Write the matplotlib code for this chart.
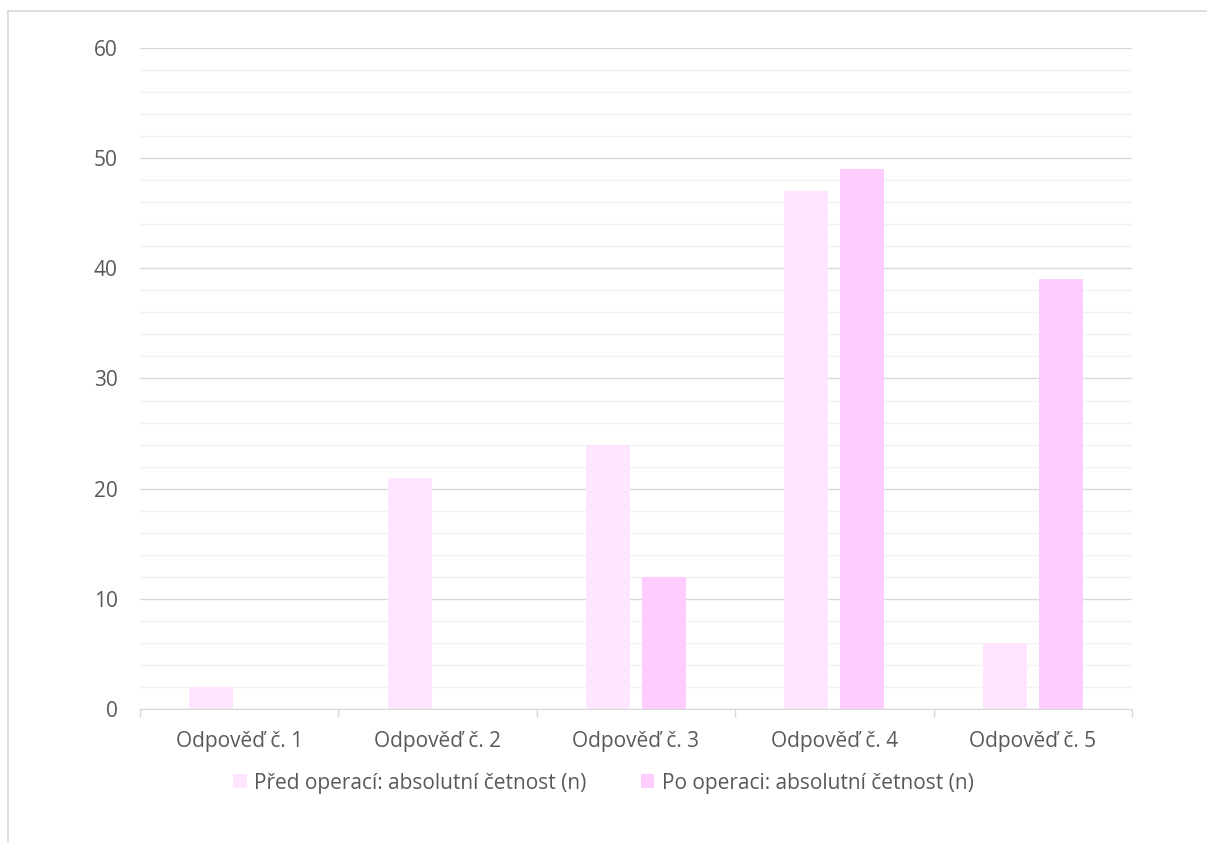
import matplotlib.pyplot as plt
import numpy as np
from matplotlib.lines import Line2D
from matplotlib.patches import Patch

plt.rcParams['font.family'] = ['Open Sans', 'DejaVu Sans']

kategorie = ["Odpověď č. 1", "Odpověď č. 2", "Odpověď č. 3", "Odpověď č. 4", "Odpověď č. 5"]
pred_operaci = [2, 21, 24, 47, 6]
po_operaci = [0, 0, 12, 49, 39]
serie = ["Před operací: absolutní četnost (n)", "Po operaci: absolutní četnost (n)"]

barva_pred = "#FFE5FF"
barva_po = "#FFCCFF"
text_barva = "#595959"
velikost = 15

fig = plt.figure(figsize=(12.07, 8.43), dpi=100)
ax = fig.add_axes([140 / 1207, 1 - 709 / 843, (1132 - 140) / 1207, (709 - 48) / 843])

x = np.arange(len(kategorie))
sirka = 0.222
posun = 0.141
ax.bar(x - posun, pred_operaci, sirka, color=barva_pred, zorder=3)
ax.bar(x + posun, po_operaci, sirka, color=barva_po, zorder=3)

ax.set_xlim(-0.5, len(kategorie) - 0.5)
ax.set_ylim(0, 60)
ax.set_yticks(range(0, 61, 10))
ax.set_yticks(range(0, 61, 2), minor=True)
ax.grid(axis="y", which="major", color="#D9D9D9", linewidth=1.0, zorder=0)
ax.grid(axis="y", which="minor", color="#F2F2F2", linewidth=1.0, zorder=0)
ax.tick_params(axis="y", which="both", length=0, pad=16, labelsize=velikost, labelcolor=text_barva)

ax.set_xticks(x)
ax.set_xticklabels(kategorie)
ax.set_xticks(np.arange(-0.5, len(kategorie), 1.0), minor=True)
ax.tick_params(axis="x", which="major", length=0, pad=16, labelsize=velikost, labelcolor=text_barva)
ax.tick_params(axis="x", which="minor", length=6, color="#D9D9D9", width=1)

for s in ["top", "right", "left"]:
    ax.spines[s].set_visible(False)
ax.spines["bottom"].set_color("#D9D9D9")
ax.spines["bottom"].set_zorder(4)

# legenda pod grafem
handles = [Patch(facecolor=barva_pred, edgecolor="none"),
           Patch(facecolor=barva_po, edgecolor="none")]
fig.legend(handles, serie, loc="center", bbox_to_anchor=(0.5, 1 - 783 / 843),
           ncol=2, frameon=False, fontsize=velikost, labelcolor=text_barva,
           handlelength=0.65, handleheight=0.65, handletextpad=0.35, columnspacing=2.6)

# rámeček okolo grafu
fig.add_artist(Line2D([8 / 1207, 1], [1 - 11 / 843, 1 - 11 / 843], color="#D9D9D9", linewidth=1.2))
fig.add_artist(Line2D([8 / 1207, 8 / 1207], [0, 1 - 11 / 843], color="#D9D9D9", linewidth=1.2))

fig.savefig("out.png", dpi=100)
